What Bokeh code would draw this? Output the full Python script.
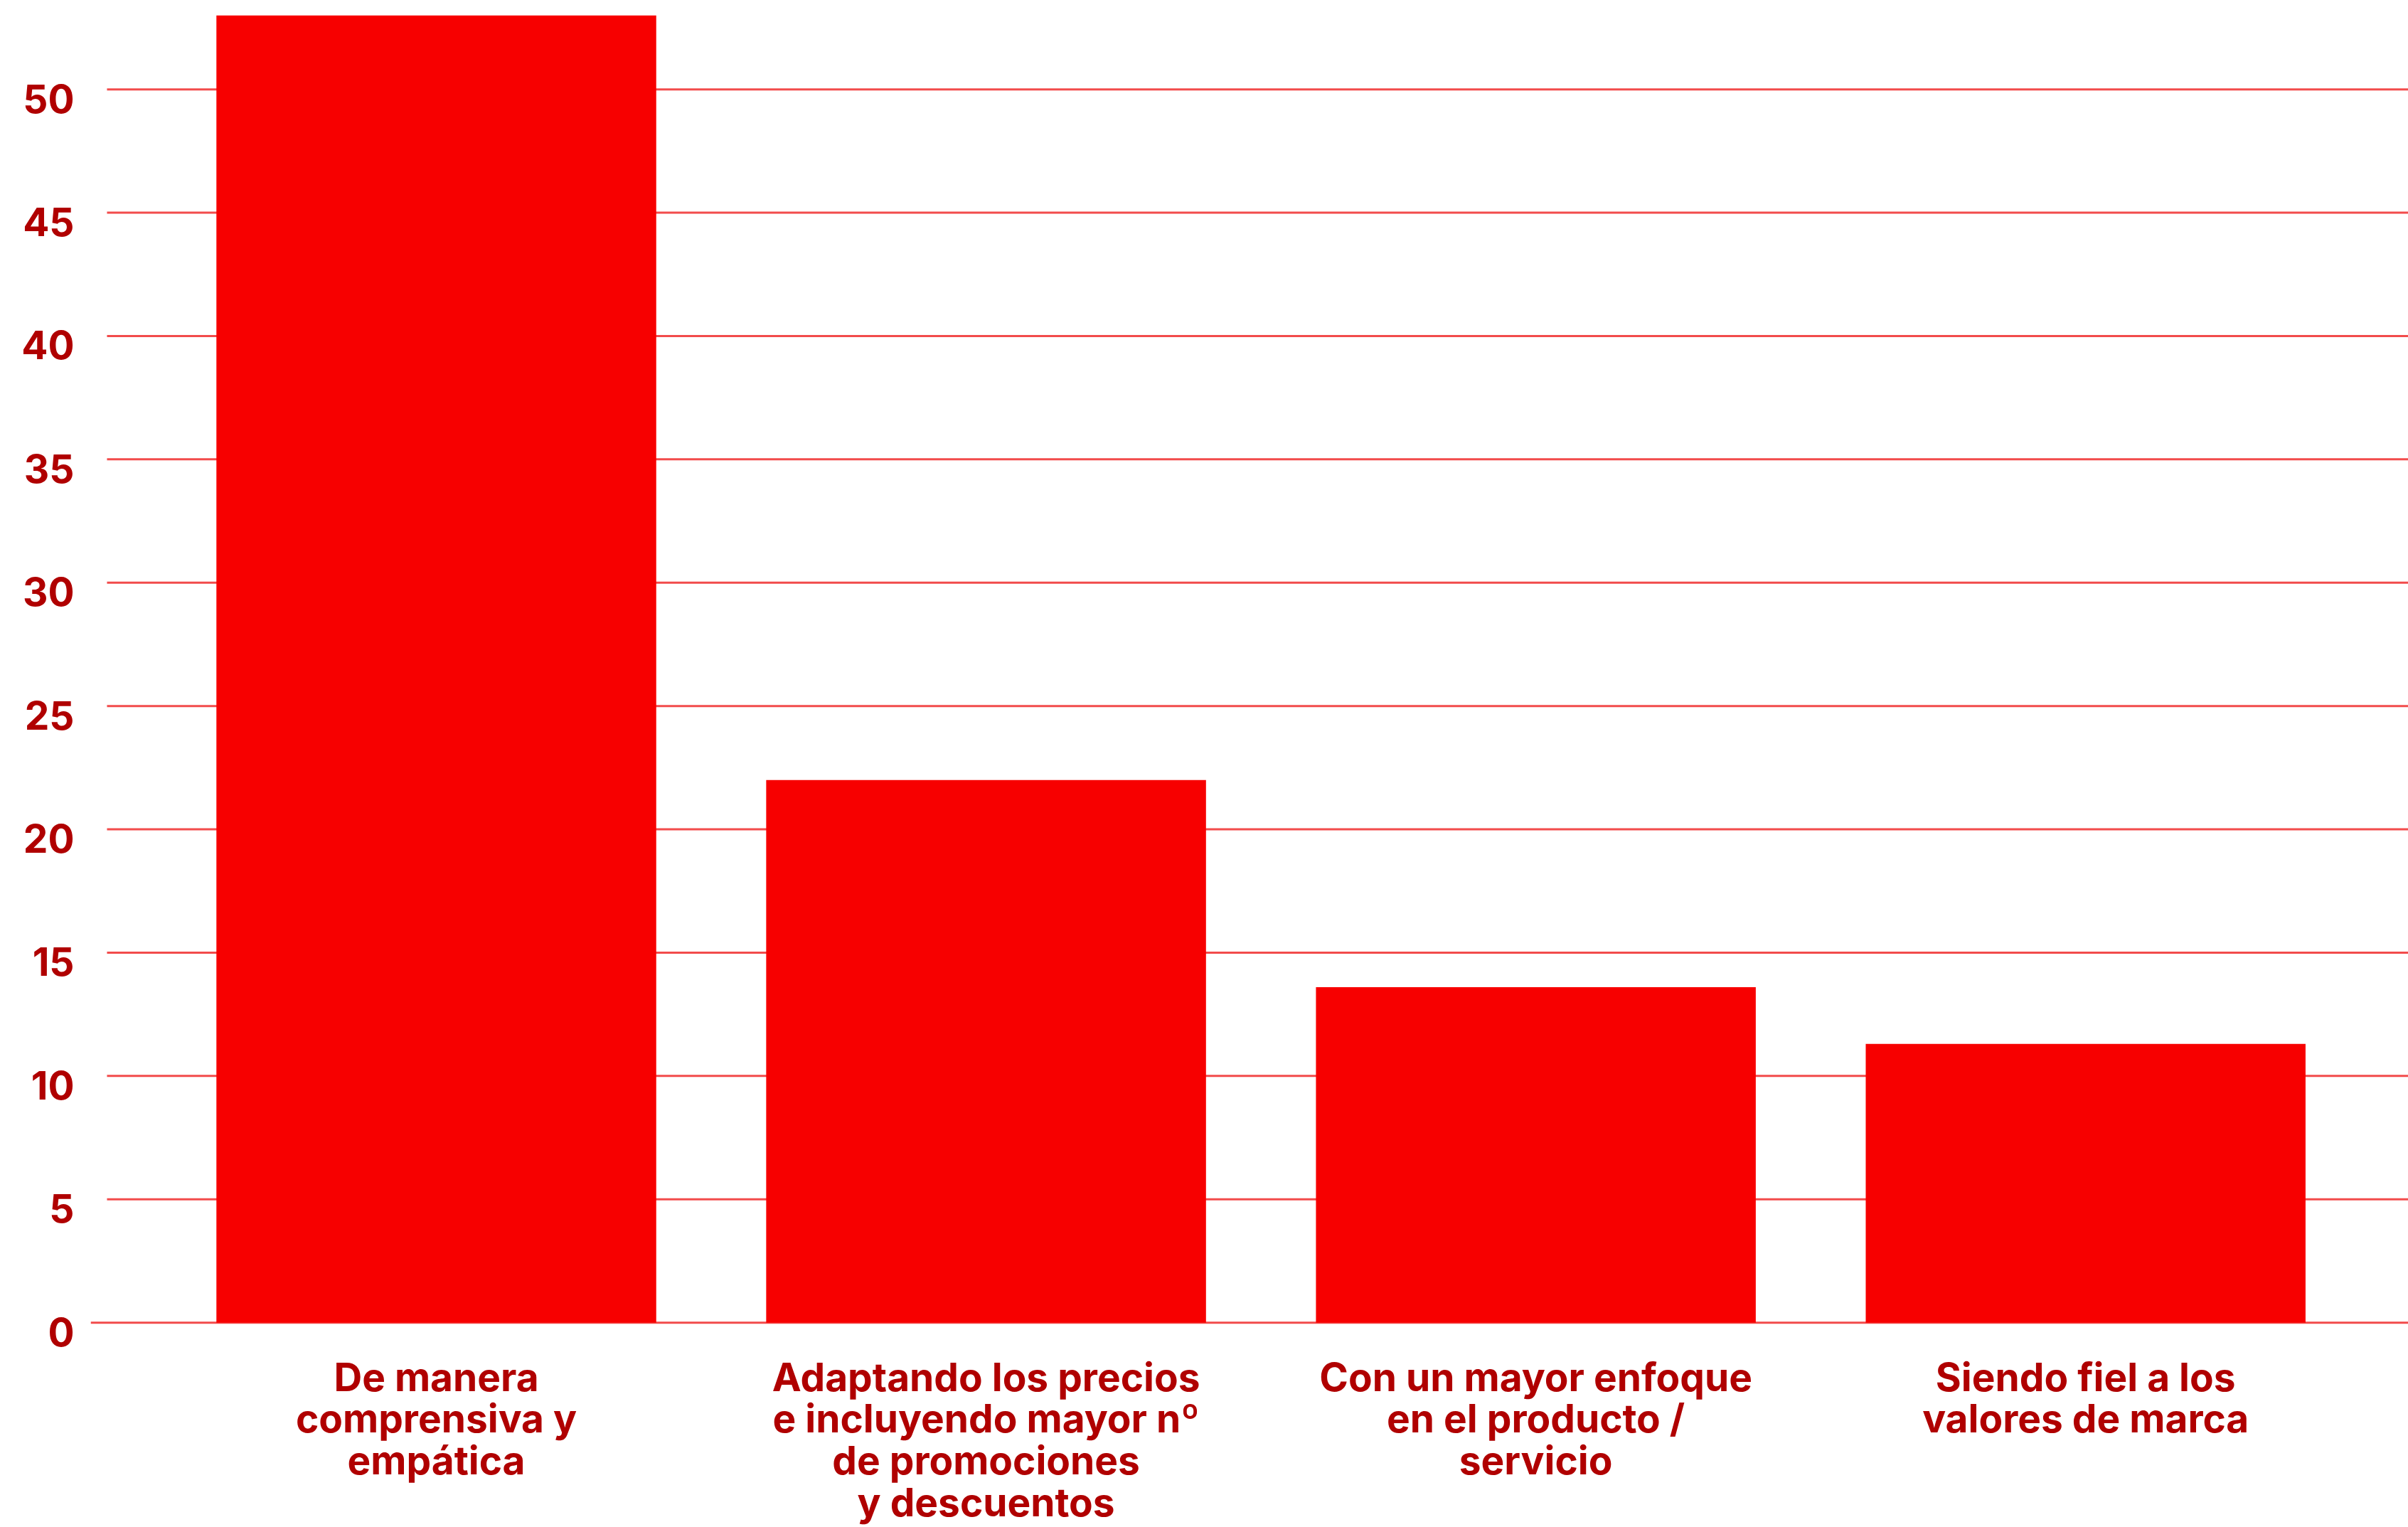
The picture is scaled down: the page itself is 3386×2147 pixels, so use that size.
from bokeh.plotting import figure
from bokeh.models import Range1d, LinearAxis, FixedTicker, ColumnDataSource
from bokeh.embed import file_html
from bokeh.resources import INLINE

categories = [
    "De manera\ncomprensiva y\nempática",
    "Adaptando los precios\ne incluyendo mayor nº\nde promociones\ny descuentos",
    "Con un mayor enfoque\nen el producto /\nservicio",
    "Siendo fiel a los\nvalores de marca",
]
values = [53.0, 22.0, 13.6, 11.3]
y_ticks = [0, 5, 10, 15, 20, 25, 30, 35, 40, 45, 50]

BAR_COLOR = "#F70000"
GRID_COLOR = "#F24B4B"
TEXT_COLOR = "#B00000"
FONT = "Inter"

Y0, Y1 = -0.4, 53.61
LABEL_SHIFT = 0.375
X0, X1 = -0.6287, 3.587

p = figure(
    frame_width=3259, frame_height=1873,
    x_range=Range1d(X0, X1), y_range=Range1d(Y0, Y1),
    output_backend="svg", toolbar_location=None,
    min_border_left=127, min_border_right=0, min_border_top=0, min_border_bottom=10,
    outline_line_color=None, background_fill_color="white", border_fill_color="white",
)
p.xgrid.visible = False
p.ygrid.visible = False
p.yaxis.visible = False

xs = list(range(len(categories)))

# grid lines (zero line runs further left)
grid_src = ColumnDataSource(dict(
    x0=[X0 if t == 0 else -0.599 for t in y_ticks],
    x1=[X1] * len(y_ticks),
    y=y_ticks,
))
p.segment(x0="x0", y0="y", x1="x1", y1="y", source=grid_src,
          line_color=GRID_COLOR, line_width=3)

src = ColumnDataSource(dict(x=xs, top=values))
p.vbar(x="x", top="top", bottom=0, width=0.8, source=src,
       fill_color=BAR_COLOR, line_color=None)

# y axis labels (slightly lowered as in the reference)
p.extra_y_ranges = {"lab": Range1d(Y0 + LABEL_SHIFT, Y1 + LABEL_SHIFT)}
yax = LinearAxis(y_range_name="lab", ticker=FixedTicker(ticks=y_ticks))
yax.axis_line_color = None
yax.major_tick_line_color = None
yax.minor_tick_line_color = None
yax.major_label_standoff = 17
yax.major_label_text_font = FONT
yax.major_label_text_font_style = "bold"
yax.major_label_text_font_size = "55px"
yax.major_label_text_color = TEXT_COLOR
p.add_layout(yax, "left")

xax = p.xaxis[0]
xax.ticker = FixedTicker(ticks=xs)
xax.major_label_overrides = {i: c for i, c in zip(xs, categories)}
xax.axis_line_color = None
xax.major_tick_line_color = None
xax.minor_tick_line_color = None
xax.major_label_standoff = 23
xax.major_label_text_font = FONT
xax.major_label_text_font_style = "bold"
xax.major_label_text_font_size = "55px"
xax.major_label_text_line_height = 0.89
xax.major_label_text_color = TEXT_COLOR

open("out.html", "w").write(file_html(p, INLINE))
